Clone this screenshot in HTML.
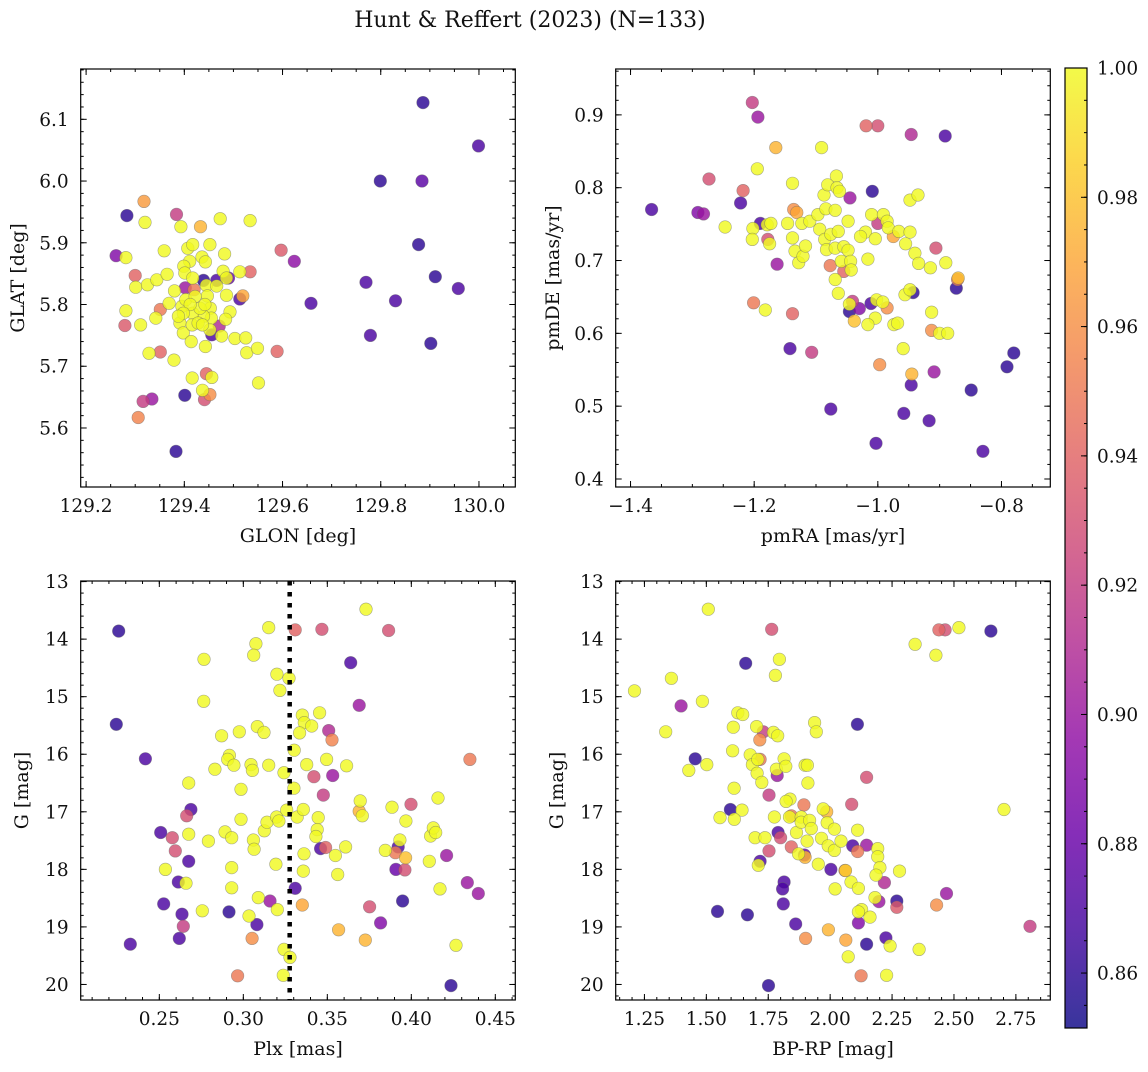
<!DOCTYPE html>
<html><head><meta charset="utf-8"><style>
html,body{margin:0;padding:0;background:#fff;}
svg text{font-family:"DejaVu Serif","Liberation Serif",serif;fill:#111;}
</style></head><body>
<svg id="fig" width="1148" height="1067" viewBox="0 0 1148 1067" xmlns="http://www.w3.org/2000/svg">
<defs>
<linearGradient id="plasmaGrad" x1="0" y1="1" x2="0" y2="0"></linearGradient>
</defs>
<text x="530" y="27" font-size="22" text-anchor="middle">Hunt &amp; Reffert (2023) (N=133)</text>
</svg>
<script>
// ---------- Panel A: GLON vs GLAT ----------
const glon = [129.886,129.999,129.799,129.884,129.877,129.911,129.770,129.958,129.830,129.658,129.779,129.902,129.624,129.597,129.534,129.589,129.283,129.261,129.318,129.384,129.433,129.300,129.279,129.351,129.351,129.316,129.334,129.306,129.401,129.383,129.441,129.452,129.445,129.439,129.466,129.490,129.513,129.456,129.471,129.402,129.420,129.519,
129.281,129.320,129.301,129.281,129.311,129.325,129.344,129.359,129.365,129.342,129.369,129.380,129.393,129.407,129.417,129.411,129.399,129.401,129.417,129.436,129.443,129.452,129.473,129.482,129.479,129.486,129.513,129.534,129.445,129.466,129.447,129.486,129.493,129.484,129.476,129.503,129.525,129.527,129.549,129.551,129.453,129.455,129.439,129.395,129.403,129.417,129.391,129.398,129.414,129.416,129.422,129.432,129.442,129.452,129.412,129.428,129.437,129.398,129.388,129.443,129.416,129.437,129.456,129.379,129.328];
const glat = [6.127,6.057,6.000,6.000,5.897,5.845,5.836,5.826,5.806,5.802,5.750,5.737,5.870,5.888,5.853,5.724,5.944,5.879,5.967,5.946,5.926,5.847,5.766,5.792,5.723,5.643,5.647,5.617,5.653,5.562,5.646,5.654,5.688,5.839,5.839,5.843,5.809,5.751,5.765,5.827,5.824,5.814,
5.876,5.933,5.828,5.790,5.767,5.832,5.840,5.887,5.849,5.778,5.802,5.822,5.926,5.891,5.897,5.870,5.862,5.851,5.843,5.877,5.869,5.897,5.939,5.882,5.854,5.843,5.853,5.936,5.831,5.830,5.814,5.815,5.788,5.776,5.749,5.745,5.746,5.722,5.729,5.673,5.794,5.778,5.781,5.797,5.808,5.786,5.770,5.754,5.740,5.767,5.813,5.794,5.800,5.759,5.800,5.770,5.767,5.786,5.781,5.732,5.681,5.661,5.682,5.710,5.721];
const probA = [.86,.87,.86,.875,.86,.86,.87,.87,.87,.87,.87,.86,.895,.935,.94,.94,.86,.89,.965,.92,.975,.94,.935,.95,.94,.92,.9,.955,.86,.86,.93,.96,.94,.86,.87,.88,.87,.87,.91,.9,.95,.97,
1,1,1,1,1,1,1,1,1,1,1,1,1,1,1,1,1,1,1,1,1,1,1,1,1,1,1,1,1,1,1,1,1,1,1,1,1,1,1,1,1,1,1,1,1,1,1,1,1,1,1,1,1,1,1,1,1,1,1,1,1,1,1,1,1];

// ---------- Panel B: pmRA vs pmDE ----------
const pmra = [-1.366,-1.291,-1.282,-1.273,-1.218,-1.222,-1.203,-1.194,-1.165,-1.195,-1.247,-1.202,-1.203,-1.190,-1.179,-1.173,-1.178,-1.175,-1.163,-1.201,-1.182,-1.138,-1.142,-1.107,-1.076,-1.138,-1.146,-1.136,-1.131,-1.123,-1.138,-1.134,-1.128,-1.121,-1.117,-1.110,-1.097,-1.091,-1.087,-1.081,-1.067,-1.066,-1.062,-1.084,-1.069,-1.094,-1.086,-1.076,-1.064,-1.083,-1.069,-1.055,-1.048,-1.048,-1.059,-1.044,-1.055,-1.043,-1.077,-1.069,-1.064,-1.045,-1.009,-1.010,-1.000,-1.020,-1.028,-1.004,-1.016,-0.991,-0.985,-0.975,-0.983,-0.966,-0.948,-0.955,-0.940,-0.934,-0.915,-0.906,-0.890,-0.948,-0.935,-0.873,-0.871,-0.870,-0.943,-0.956,-0.948,-1.046,-1.030,-1.041,-1.046,-1.038,-1.011,-1.002,-0.992,-0.985,-1.004,-1.016,-0.974,-0.968,-0.913,-0.913,-0.900,-0.887,-0.959,-0.997,-0.945,-0.946,-0.909,-0.958,-0.917,-1.003,-0.849,-0.830,-0.791,-0.780,-1.019,-1.000,-0.946,-0.891];
const pmde = [0.770,0.766,0.764,0.812,0.796,0.779,0.917,0.897,0.855,0.826,0.746,0.744,0.729,0.751,0.749,0.751,0.729,0.723,0.695,0.642,0.632,0.627,0.579,0.574,0.496,0.806,0.751,0.770,0.766,0.751,0.731,0.713,0.697,0.706,0.720,0.754,0.763,0.855,0.790,0.804,0.816,0.800,0.795,0.771,0.769,0.743,0.729,0.736,0.740,0.715,0.717,0.719,0.754,0.714,0.699,0.699,0.685,0.687,0.693,0.674,0.655,0.786,0.795,0.763,0.751,0.739,0.733,0.730,0.702,0.763,0.754,0.733,0.745,0.740,0.739,0.723,0.710,0.696,0.690,0.717,0.697,0.783,0.790,0.662,0.674,0.676,0.656,0.653,0.660,0.630,0.634,0.644,0.640,0.617,0.641,0.646,0.643,0.635,0.621,0.612,0.612,0.614,0.629,0.604,0.600,0.600,0.579,0.557,0.544,0.529,0.547,0.490,0.480,0.449,0.522,0.438,0.554,0.573,0.885,0.885,0.873,0.871];
const probB = [.87,.89,.9,.93,.94,.87,.92,.9,.975,1,1,1,1,.87,1,1,.93,1,.9,.95,1,.94,.87,.92,.87,1,1,.96,.97,1,1,1,1,1,1,1,1,1,1,1,1,1,1,1,1,1,1,1,1,1,1,1,1,1,1,1,.94,1,.95,1,1,.9,.86,1,.92,1,1,1,1,1,1,.97,1,1,1,1,1,1,1,.93,1,1,1,.86,.95,.98,.86,1,1,.86,.89,.92,1,.98,.87,1,1,.96,1,1,1,1,1,.96,1,1,1,.96,.975,.87,.9,.87,.87,.87,.86,.87,.86,.86,.94,.93,.91,.87];

// ---------- Panel C: Plx vs G ----------
const plx = [0.2258,0.2244,0.2417,0.2327,0.2508,0.2577,0.2595,0.2663,0.2688,0.2675,0.2613,0.2526,0.2635,0.2643,0.2619,0.2536,0.2659,0.2675,0.2675,0.2766,0.2764,0.2792,0.2756,0.2871,0.2831,0.2917,0.2907,0.2944,0.2976,0.2986,0.2986,0.2891,0.2931,0.2931,0.2931,0.2915,0.3034,0.3052,0.2966,0.3046,0.3054,0.3060,0.3064,0.3075,0.3062,0.3083,0.3123,0.3151,0.3151,0.3125,0.3141,0.3089,0.3159,0.3081,0.3200,0.3218,0.3194,0.3202,0.3198,0.3212,0.3242,0.3272,0.3258,0.3242,0.3278,0.3238,0.3309,0.3303,0.3301,0.3321,0.3309,0.3351,0.3363,0.3335,0.3407,0.3377,0.3357,0.3361,0.3357,0.3351,0.3468,0.3454,0.3420,0.3476,0.3508,0.3528,0.3532,0.3446,0.3440,0.3432,0.3460,0.3490,0.3496,0.3548,0.3562,0.3567,0.3615,0.3609,0.3639,0.3690,0.3696,0.3690,0.3708,0.3730,0.3726,0.3752,0.3817,0.3865,0.3845,0.3885,0.3922,0.3932,0.3905,0.3908,0.3962,0.3966,0.3968,0.3948,0.3998,0.4107,0.4115,0.4131,0.4145,0.4159,0.4171,0.4210,0.4236,0.4266,0.4333,0.4349,0.4399];
const gmagC = [13.86,15.48,16.08,19.30,17.36,17.45,17.68,17.07,16.96,17.86,18.22,18.60,18.78,18.99,19.20,18.00,18.24,17.39,16.50,14.35,15.08,17.51,18.72,15.68,16.26,16.02,16.09,16.19,15.61,16.61,17.13,17.35,17.45,17.97,18.32,18.74,18.81,19.20,19.85,16.18,16.28,17.49,17.65,14.08,14.28,15.52,15.62,13.80,16.19,17.33,17.18,18.49,18.55,18.96,14.61,14.89,17.91,18.70,17.09,17.16,16.32,14.68,16.97,19.39,19.53,19.84,13.84,15.93,16.59,17.09,18.33,15.32,15.45,15.63,15.51,16.18,16.96,17.73,18.03,18.62,13.83,15.28,16.39,16.71,15.59,15.75,16.37,17.10,17.31,17.43,17.64,17.62,16.09,17.76,18.09,19.05,16.20,17.61,14.41,15.15,16.81,16.99,17.07,13.48,19.23,18.65,18.93,13.85,17.67,16.92,17.61,17.49,17.71,18.00,18.01,17.80,17.16,18.55,16.87,17.86,17.42,17.28,17.36,16.76,18.34,17.76,20.02,19.32,18.23,16.09,18.42];
const probC = [.86,.86,.87,.87,.87,.93,.93,.93,.87,.87,.87,.87,.87,.92,.87,1,1,1,1,1,1,1,1,1,1,1,1,1,1,1,1,1,1,1,1,.86,1,.96,.95,1,1,1,1,1,1,1,1,1,1,1,1,1,.9,.87,1,1,1,1,1,1,1,1,1,1,1,1,.94,1,1,1,.87,1,1,1,1,1,1,1,1,.97,.93,1,.93,.92,.91,.955,.9,1,1,1,.87,.94,1,1,1,.975,1,1,.87,.9,1,.975,1,1,.975,.93,.89,.93,1,1,.87,1,.95,.88,.93,.98,1,.86,.93,1,1,1,1,1,1,.9,.86,1,.9,.95,.9];
const plxRef = 0.3276;

// ---------- Panel D: BP-RP vs G ----------
const bprp = [1.508,1.210,1.359,1.336,1.398,1.484,1.455,1.429,1.502,1.659,1.764,1.795,1.779,1.627,1.647,1.609,1.606,1.703,1.730,1.716,1.771,1.788,1.677,1.686,1.708,1.717,1.705,1.724,1.786,1.814,1.783,1.821,1.612,1.753,1.838,1.822,1.597,1.644,1.555,1.613,1.775,1.843,1.836,1.883,1.894,1.910,1.899,1.908,1.937,1.944,1.697,1.737,1.790,1.800,1.843,1.864,1.883,1.917,1.924,1.907,1.872,1.896,1.899,1.753,1.717,1.710,1.952,1.965,1.972,1.986,1.988,1.992,2.017,2.017,2.044,2.003,2.060,2.062,2.084,2.020,2.087,2.110,2.111,2.091,2.111,2.147,2.147,2.114,2.192,2.192,2.201,2.185,2.219,2.280,2.181,2.197,2.269,2.269,2.127,2.114,2.161,2.114,2.225,2.242,2.147,2.359,1.993,2.063,2.073,2.125,2.228,1.901,1.861,1.811,1.814,1.808,1.666,1.545,1.751,2.343,2.427,2.439,2.464,2.520,2.649,2.702,2.430,2.470,2.807];
const gmagD = [13.48,14.90,14.68,15.61,15.16,15.08,16.08,16.28,16.18,14.42,13.83,14.35,14.63,15.28,15.31,15.53,15.94,15.52,15.61,15.75,15.62,15.68,16.01,16.18,16.09,16.09,16.33,16.49,16.37,16.08,16.26,16.21,16.59,16.71,16.78,16.82,16.96,16.97,17.10,17.13,17.09,17.07,17.09,17.09,16.88,16.50,16.19,16.19,15.45,15.61,17.45,17.45,17.36,17.45,17.61,17.36,17.18,17.15,17.29,17.51,17.73,17.75,17.79,17.68,17.86,17.93,17.91,17.46,16.95,17.00,17.19,17.59,17.67,17.30,17.51,18.00,18.02,18.02,18.22,18.34,16.87,15.48,17.32,17.59,17.69,17.58,16.40,18.33,17.64,17.78,17.97,18.10,18.23,18.03,18.49,18.56,18.55,18.66,18.70,18.74,18.83,18.93,19.19,19.33,19.30,19.39,19.05,19.23,19.52,19.85,19.84,19.20,18.95,18.60,18.22,18.34,18.79,18.73,20.02,14.09,14.28,13.84,13.84,13.80,13.86,16.96,18.62,18.42,18.99];
const probD = [1,1,1,1,.9,1,.86,1,1,.86,.93,1,1,1,1,1,1,1,.92,.96,1,1,1,1,1,.95,1,1,.9,1,1,1,1,.92,1,1,.86,1,1,1,1,.95,1,1,.95,1,1,1,1,1,1,1,.87,.93,.94,1,1,1,1,1,1,.88,.975,.93,.87,1,1,1,1,.975,1,1,1,1,1,.87,.95,.985,1,1,.93,.86,1,.87,.95,.9,.93,1,1,1,1,1,.91,1,1,.9,.86,.935,1,1,1,.89,.87,1,.86,1,.975,.97,1,.95,1,.96,.87,.87,.87,.87,.86,.86,.86,1,1,.94,.93,1,.86,1,.96,.9,.92];

// ---------- Colorbar ticks ----------
const cbarTicks = [0.86,0.88,0.90,0.92,0.94,0.96,0.98,1.00];
const vmin = 0.8515, vmax = 1.0;

const NS = "http://www.w3.org/2000/svg";
const svg = document.getElementById('fig');
function mk(tag, attrs, parent){
  const e = document.createElementNS(NS, tag);
  for (const k in attrs) e.setAttribute(k, attrs[k]);
  (parent||svg).appendChild(e);
  return e;
}
const plasma = ['#0d0887','#41049d','#6a00a8','#8f0da4','#b12a90','#cc4778','#e16462','#f2844b','#fca636','#fcce25','#f0f921'];
function hex2rgb(h){return [parseInt(h.substr(1,2),16),parseInt(h.substr(3,2),16),parseInt(h.substr(5,2),16)];}
function cmap(t){
  t = Math.max(0, Math.min(1, t));
  const f = t*10, i = Math.min(9, Math.floor(f)), r = f - i;
  const a = hex2rgb(plasma[i]), b = hex2rgb(plasma[i+1]);
  return 'rgb(' + a.map((v,k)=>Math.round(v+(b[k]-v)*r)).join(',') + ')';
}
function probColor(p){ return cmap((p - vmin)/(vmax - vmin)); }

const grad = document.getElementById('plasmaGrad');
for (let i=0;i<=10;i++){ mk('stop',{offset:(i*10)+'%','stop-color':plasma[i],'stop-opacity':0.82},grad); }

function fmtMinus(s){ return s.replace('-', '\u2212'); }

const TICK_FS = 18.5, LABEL_FS = 19;

function panel(cfg){
  const g = mk('g', {});
  
  
  const [L,R] = cfg.px, [T,B] = cfg.py;
  const sx = v => L + (v - cfg.xd[0])/(cfg.xd[1]-cfg.xd[0])*(R-L);
  const sy = cfg.yrev ? (v => T + (v - cfg.yd[0])/(cfg.yd[1]-cfg.yd[0])*(B-T))
                      : (v => B - (v - cfg.yd[0])/(cfg.yd[1]-cfg.yd[0])*(B-T));
  const idx = cfg.x.map((_,i)=>i).sort((a,b)=>cfg.p[a]-cfg.p[b]);
  const pts = mk('g', {}, g);
  
  
  const cid = cfg.name + '-clip';
  const cp = mk('clipPath', {id: cid}, g);
  mk('rect', {x:L, y:T, width:R-L, height:B-T}, cp);
  pts.setAttribute('clip-path', 'url(#'+cid+')');
  idx.forEach(i=>{
    const c = mk('circle', {cx: sx(cfg.x[i]).toFixed(1), cy: sy(cfg.y[i]).toFixed(1), r: 6.3,
      fill: probColor(cfg.p[i]), 'fill-opacity': 0.82, stroke: '#666', 'stroke-opacity': 0.55, 'stroke-width': 0.6}, pts);
    
    
  });
  if (cfg.vline !== undefined){
    const vl = mk('line', {x1: sx(cfg.vline), x2: sx(cfg.vline), y1: T, y2: B, stroke:'#000', 'stroke-width':4.5, 'stroke-dasharray':'4.5,6.5'}, g);
    
    
  }
  const fr = mk('rect', {x:L, y:T, width:R-L, height:B-T, fill:'none', stroke:'#000', 'stroke-width':1.2}, g);
  
  
  const tg = mk('g', {stroke:'#000', 'stroke-width':1}, g);
  function tickRange(d0, d1, step){
    const out=[]; const s0 = Math.ceil(d0/step - 1e-6), s1 = Math.floor(d1/step + 1e-6);
    for (let k=s0;k<=s1;k++) out.push(+(k*step).toFixed(6)); return out;
  }
  tickRange(cfg.xd[0], cfg.xd[1], cfg.xminor).forEach(v=>{
    const X = sx(v);
    mk('line',{x1:X,x2:X,y1:B,y2:B-3},tg); mk('line',{x1:X,x2:X,y1:T,y2:T+3},tg);
  });
  tickRange(cfg.yd[0], cfg.yd[1], cfg.yminor).forEach(v=>{
    const Y = sy(v);
    mk('line',{x1:L,x2:L+3,y1:Y,y2:Y},tg); mk('line',{x1:R,x2:R-3,y1:Y,y2:Y},tg);
  });
  cfg.xt.forEach(v=>{
    const X = sx(v);
    mk('line',{x1:X,x2:X,y1:B,y2:B-6},tg); mk('line',{x1:X,x2:X,y1:T,y2:T+6},tg);
    const t = mk('text',{x:X, y:B+25, 'font-size':TICK_FS, 'text-anchor':'middle'}, g);
    t.textContent = fmtMinus(v.toFixed(cfg.xdec));
    
    
  });
  cfg.yt.forEach(v=>{
    const Y = sy(v);
    mk('line',{x1:L,x2:L+6,y1:Y,y2:Y},tg); mk('line',{x1:R,x2:R-6,y1:Y,y2:Y},tg);
    const t = mk('text',{x:L-12, y:Y+6.5, 'font-size':TICK_FS, 'text-anchor':'end'}, g);
    t.textContent = v.toFixed(cfg.ydec);
    
    
  });
  const xl = mk('text',{x:(L+R)/2, y:B+55, 'font-size':LABEL_FS, 'text-anchor':'middle'}, g);
  xl.textContent = cfg.xlabel;
  
  
  const ylx = cfg.ylx, yly = (T+B)/2;
  const yl = mk('text',{x:ylx, y:yly, 'font-size':LABEL_FS, 'text-anchor':'middle', transform:'rotate(-90 '+ylx+' '+yly+')'}, g);
  yl.textContent = cfg.ylabel;
  
  
}

panel({name:'glon-glat-panel', px:[80.7,515.3], py:[69,487], xd:[129.189,130.074], yd:[5.5044,6.1815],
  x:glon, y:glat, p:probA, xt:[129.2,129.4,129.6,129.8,130.0], xminor:0.05, xdec:1,
  yt:[5.6,5.7,5.8,5.9,6.0,6.1], yminor:0.02, ydec:1, xlabel:'GLON [deg]', ylabel:'GLAT [deg]', ylx:24});
panel({name:'pm-panel', px:[615.7,1050.3], py:[69,487], xd:[-1.424,-0.721], yd:[0.389,0.963],
  x:pmra, y:pmde, p:probB, xt:[-1.4,-1.2,-1.0,-0.8], xminor:0.05, xdec:1,
  yt:[0.4,0.5,0.6,0.7,0.8,0.9], yminor:0.02, ydec:1, xlabel:'pmRA [mas/yr]', ylabel:'pmDE [mas/yr]', ylx:559});
panel({name:'plx-g-panel', px:[80.7,515.3], py:[581,1000], xd:[0.2032,0.4619], yd:[12.99,20.27], yrev:true,
  x:plx, y:gmagC, p:probC, xt:[0.25,0.30,0.35,0.40,0.45], xminor:0.01, xdec:2,
  yt:[13,14,15,16,17,18,19,20], yminor:0.2, ydec:0, xlabel:'Plx [mas]', ylabel:'G [mag]', ylx:28, vline:plxRef});
panel({name:'cmd-panel', px:[615.7,1050.3], py:[581,1000], xd:[1.134,2.889], yd:[12.99,20.27], yrev:true,
  x:bprp, y:gmagD, p:probD, xt:[1.25,1.50,1.75,2.00,2.25,2.50,2.75], xminor:0.05, xdec:2,
  yt:[13,14,15,16,17,18,19,20], yminor:0.2, ydec:0, xlabel:'BP-RP [mag]', ylabel:'G [mag]', ylx:563});

(function(){
  const L=1065, R=1087, T=68, B=1028;
  const g = mk('g',{});
  
  
  mk('rect',{x:L,y:T,width:R-L,height:B-T,fill:'url(#plasmaGrad)'},g);
  mk('rect',{x:L,y:T,width:R-L,height:B-T,fill:'none',stroke:'#000','stroke-width':1.2},g);
  const sy = v => B - (v - vmin)/(vmax - vmin)*(B-T);
  for (let k=Math.ceil(vmin/0.005); k<=Math.floor(vmax/0.005+1e-6); k++){
    const Y = sy(k*0.005);
    mk('line',{x1:R,x2:R-3,y1:Y,y2:Y,stroke:'#000','stroke-width':1},g);
  }
  cbarTicks.forEach(v=>{
    const Y = sy(v);
    mk('line',{x1:R,x2:R-6,y1:Y,y2:Y,stroke:'#000','stroke-width':1},g);
    const t = mk('text',{x:R+10,y:Y+6.5,'font-size':TICK_FS},g);
    t.textContent = v.toFixed(2);
    
    
  });
})();
</script>
</body></html>
